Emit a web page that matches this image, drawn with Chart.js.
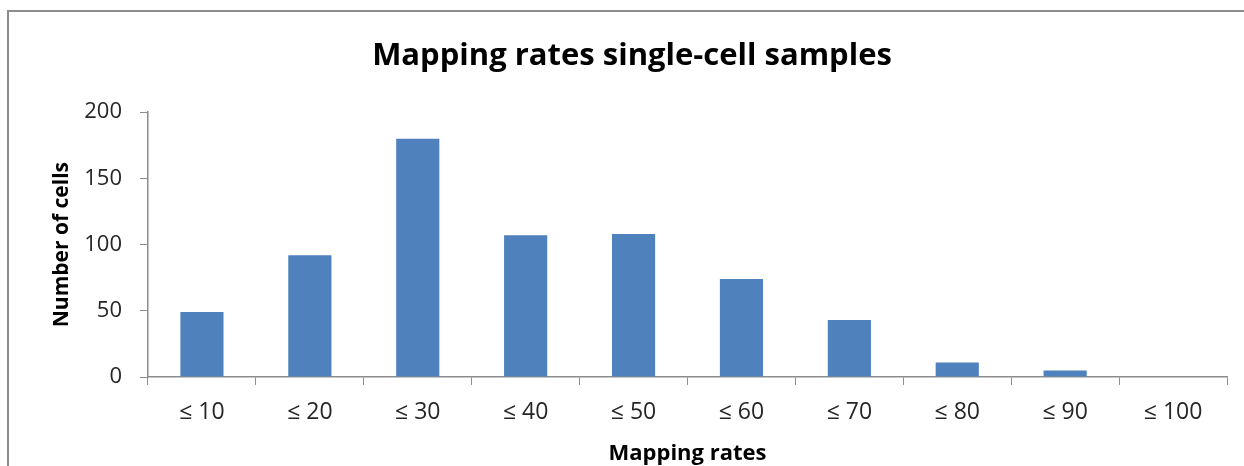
<!DOCTYPE html>
<html>
<head>
<meta charset="utf-8">
<title>Mapping rates single-cell samples</title>
<script src="https://cdn.jsdelivr.net/npm/chart.js@4.4.1/dist/chart.umd.min.js"></script>
<style>
  html, body { margin: 0; padding: 0; background: #ffffff; overflow: hidden; }
  #wrap { position: relative; width: 1244px; height: 466px; overflow: hidden; }
  #frame {
    position: absolute; left: 7px; top: 10px; width: 1400px; height: 600px;
    border-top: 2px solid #8c8c8c; border-left: 2px solid #8c8c8c;
  }
  canvas { position: absolute; left: 0; top: 0; }
</style>
</head>
<body>
<div id="wrap">
  <div id="frame"></div>
  <canvas id="chart" width="1244" height="466"></canvas>
</div>
<script>
// Histogram of mapping rates across single-cell samples
const categories = ['≤ 10', '≤ 20', '≤ 30', '≤ 40', '≤ 50', '≤ 60', '≤ 70', '≤ 80', '≤ 90', '≤ 100'];
const cellCounts = [49, 92, 180, 107, 108, 74, 43, 11, 5, 0];
const yTicks = [0, 50, 100, 150, 200];

const FONT = "'Open Sans', 'Liberation Sans', sans-serif";
const AXIS_GRAY = '#8c8c8c';

new Chart(document.getElementById('chart'), {
  type: 'bar',
  data: {
    labels: categories,
    datasets: [{
      label: 'Number of cells',
      data: cellCounts,
      backgroundColor: '#4f81bd',
      borderWidth: 0,
      barPercentage: 0.4,
      categoryPercentage: 1.0
    }]
  },
  options: {
    responsive: false,
    animation: false,
    layout: { padding: { left: 37, right: 17, top: 0, bottom: 0 } },
    plugins: {
      legend: { display: false },
      tooltip: { enabled: false },
      title: {
        display: true,
        text: 'Mapping rates single-cell samples',
        color: '#000000',
        font: { family: FONT, size: 31, weight: 'bold', lineHeight: 1.2 },
        padding: { top: 38, bottom: 37 }
      }
    },
    scales: {
      x: {
        grid: {
          offset: true,
          drawOnChartArea: false,
          drawTicks: true,
          tickLength: 8,
          color: AXIS_GRAY,
          lineWidth: 1
        },
        border: { display: true, color: AXIS_GRAY, width: 1.5 },
        ticks: {
          color: '#262626',
          font: { family: FONT, size: 23 },
          padding: 14,
          maxRotation: 0,
          autoSkip: false
        },
        title: {
          display: true,
          text: 'Mapping rates',
          color: '#000000',
          font: { family: FONT, size: 22, weight: 'bold', lineHeight: 1.1 },
          padding: { top: 0, bottom: 0 }
        },
        afterFit: (scale) => { scale.height = 89; }
      },
      y: {
        min: 0,
        max: 200,
        afterBuildTicks: (scale) => { scale.ticks = yTicks.map(v => ({ value: v })); },
        grid: {
          drawOnChartArea: false,
          drawTicks: true,
          tickLength: 8,
          color: AXIS_GRAY,
          lineWidth: 1
        },
        border: { display: true, color: AXIS_GRAY, width: 1.5 },
        ticks: {
          color: '#262626',
          font: { family: FONT, size: 22 },
          padding: 18
        },
        title: {
          display: true,
          text: 'Number of cells',
          color: '#000000',
          font: { family: FONT, size: 21, weight: 'bold', lineHeight: 1.2 },
          padding: { top: 12, bottom: 0 }
        },
        afterFit: (scale) => { scale.width = 111; }
      }
    }
  }
});
</script>
</body>
</html>
